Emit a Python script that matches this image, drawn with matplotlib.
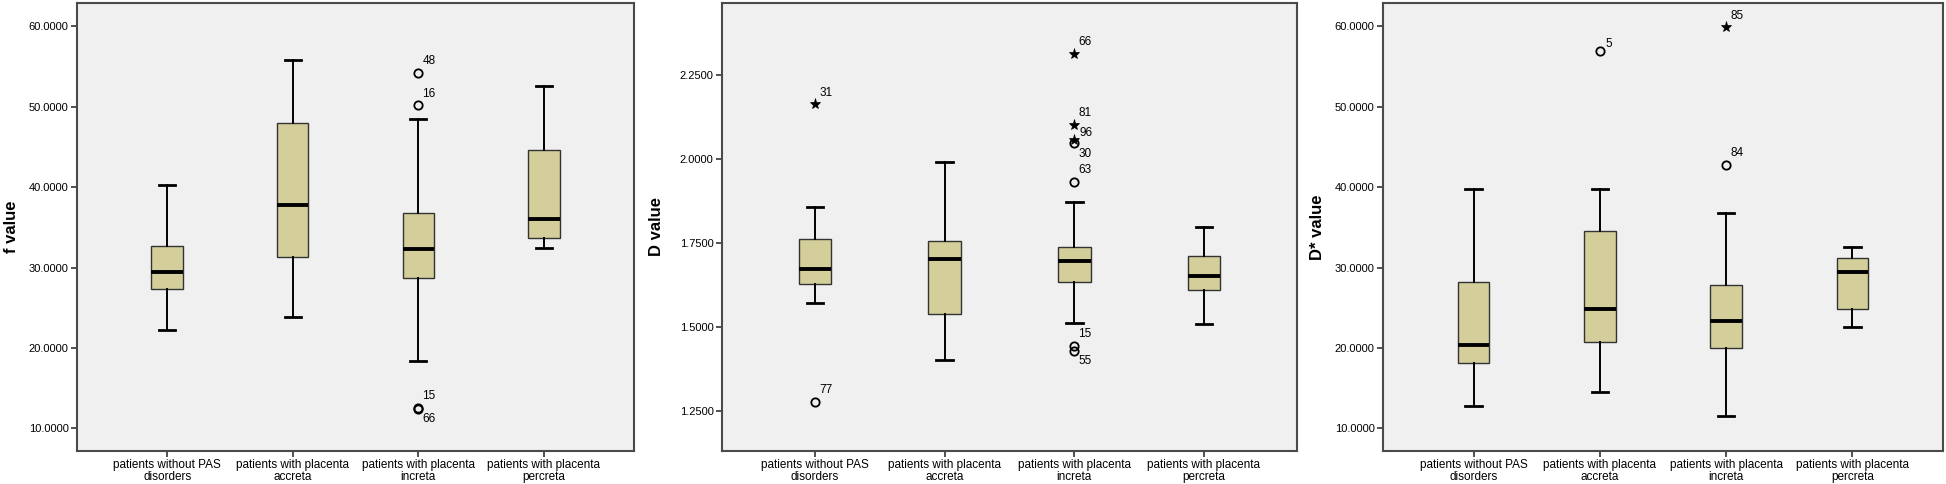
import matplotlib
matplotlib.use("Agg")
import matplotlib.pyplot as plt

# ---------------- data ----------------
categories = ["patients without PAS\ndisorders", "patients with placenta\naccreta",
              "patients with placenta\nincreta", "patients with placenta\npercreta"]

# f value
f_whislo = [22.3, 23.8, 18.4, 32.4]
f_q1 = [27.4, 31.3, 28.7, 33.7]
f_med = [29.4, 37.8, 32.3, 36.1]
f_q3 = [32.7, 48.0, 36.8, 44.6]
f_whishi = [40.25, 55.8, 48.5, 52.6]
f_out_cat = [3, 3, 3, 3]
f_out_val = [54.2, 50.2, 12.6, 12.45]
f_out_lab = ["48", "16", "15", "66"]
f_out_kind = ["o", "o", "o", "o"]
f_ticks = [10, 20, 30, 40, 50, 60]

# D value
d_whislo = [1.572, 1.403, 1.513, 1.509]
d_q1 = [1.627, 1.539, 1.635, 1.611]
d_med = [1.674, 1.702, 1.698, 1.653]
d_q3 = [1.761, 1.756, 1.739, 1.711]
d_whishi = [1.858, 1.993, 1.873, 1.797]
d_out_cat = [1, 1, 3, 3, 3, 3, 3, 3, 3]
d_out_val = [2.164, 1.277, 2.313, 2.103, 2.057, 2.047, 1.933, 1.444, 1.429]
d_out_lab = ["31", "77", "66", "81", "96", "30", "63", "15", "55"]
d_out_kind = ["*", "o", "*", "*", "*", "o", "o", "o", "o"]
d_ticks = [1.25, 1.5, 1.75, 2.0, 2.25]

# D* value
ds_whislo = [12.8, 14.5, 11.5, 22.6]
ds_q1 = [18.2, 20.8, 20.0, 24.8]
ds_med = [20.4, 24.9, 23.4, 29.4]
ds_q3 = [28.2, 34.6, 27.8, 31.2]
ds_whishi = [39.8, 39.8, 36.8, 32.6]
ds_out_cat = [2, 3, 3]
ds_out_val = [56.9, 59.9, 42.8]
ds_out_lab = ["5", "85", "84"]
ds_out_kind = ["o", "*", "o"]
ds_ticks = [10, 20, 30, 40, 50, 60]

# ---------------- style ----------------
plt.rcParams["font.family"] = ["Liberation Sans", "DejaVu Sans"]

BOX_FILL = "#D4CF9A"
BG = "#F0F0F0"
FRAME = "#4a4a4a"

# label placement (styling): 'up' above-right, 'down' below-right, 'right' right
f_place = ["up", "up", "up", "down"]
d_place = ["up", "up", "up", "up", "right", "down", "up", "up", "down"]
ds_place = ["right", "up", "up"]

fig = plt.figure(figsize=(19.46, 4.84), dpi=100)
bottom, top = 1 - 451 / 484, 1 - 3 / 484
panels = [
    (77, 634, "f value", (7.2, 62.9), f_ticks,
     f_whislo, f_q1, f_med, f_q3, f_whishi, f_out_cat, f_out_val, f_out_lab, f_out_kind, f_place),
    (722, 1297, "D value", (1.131, 2.465), d_ticks,
     d_whislo, d_q1, d_med, d_q3, d_whishi, d_out_cat, d_out_val, d_out_lab, d_out_kind, d_place),
    (1383, 1943, "D* value", (7.2, 62.9), ds_ticks,
     ds_whislo, ds_q1, ds_med, ds_q3, ds_whishi, ds_out_cat, ds_out_val, ds_out_lab, ds_out_kind, ds_place),
]

for (lp, rp, ylab, ylim, ticks, wl, q1, med, q3, wh, oc, ov, ol, ok, place) in panels:
    l, r = lp / 1946, rp / 1946
    ax = fig.add_axes([l, bottom, r - l, top - bottom])
    ax.set_facecolor(BG)
    stats = []
    for i in range(len(categories)):
        stats.append(dict(whislo=wl[i], q1=q1[i], med=med[i], q3=q3[i], whishi=wh[i], fliers=[]))
    ax.bxp(stats, positions=range(1, len(categories) + 1), widths=0.25, patch_artist=True,
           showfliers=False,
           boxprops=dict(facecolor=BOX_FILL, edgecolor="#333333", linewidth=1.0),
           medianprops=dict(color="black", linewidth=2.8, solid_capstyle="butt"),
           whiskerprops=dict(color="black", linewidth=1.4),
           capprops=dict(color="black", linewidth=2.0),
           capwidths=0.13)
    for c, v, lab, k, p in zip(oc, ov, ol, ok, place):
        if k == "o":
            ax.plot(c, v, marker="o", ms=6, mfc="none", mec="black", mew=1.3, ls="none")
        else:
            ax.plot(c, v, marker="*", ms=8, mfc="black", mec="black", mew=0.5, ls="none")
        if p == "up":
            ax.annotate(lab, (c, v), xytext=(3, 4), textcoords="offset points",
                        fontsize=8.5, ha="left", va="bottom")
        elif p == "down":
            ax.annotate(lab, (c, v), xytext=(3, -3), textcoords="offset points",
                        fontsize=8.5, ha="left", va="top")
        else:
            ax.annotate(lab, (c, v), xytext=(4, 1), textcoords="offset points",
                        fontsize=8.5, ha="left", va="bottom")
    ax.set_xlim(0.282, 4.718)
    ax.set_ylim(*ylim)
    ax.set_yticks(ticks)
    ax.set_yticklabels(["{:.4f}".format(t) for t in ticks], fontsize=8)
    ax.set_xticks(range(1, len(categories) + 1))
    ax.set_xticklabels(categories, fontsize=8.5, linespacing=1.0)
    ax.tick_params(axis="both", direction="out", length=4, width=1.2, color="#333333", pad=2)
    for s in ax.spines.values():
        s.set_color(FRAME)
        s.set_linewidth(1.5)
    ax.set_ylabel(ylab, fontsize=12, fontweight="bold")
    ax.yaxis.set_label_coords(-58 / (rp - lp), 0.5)

fig.savefig("out.png", dpi=100, facecolor="white")
